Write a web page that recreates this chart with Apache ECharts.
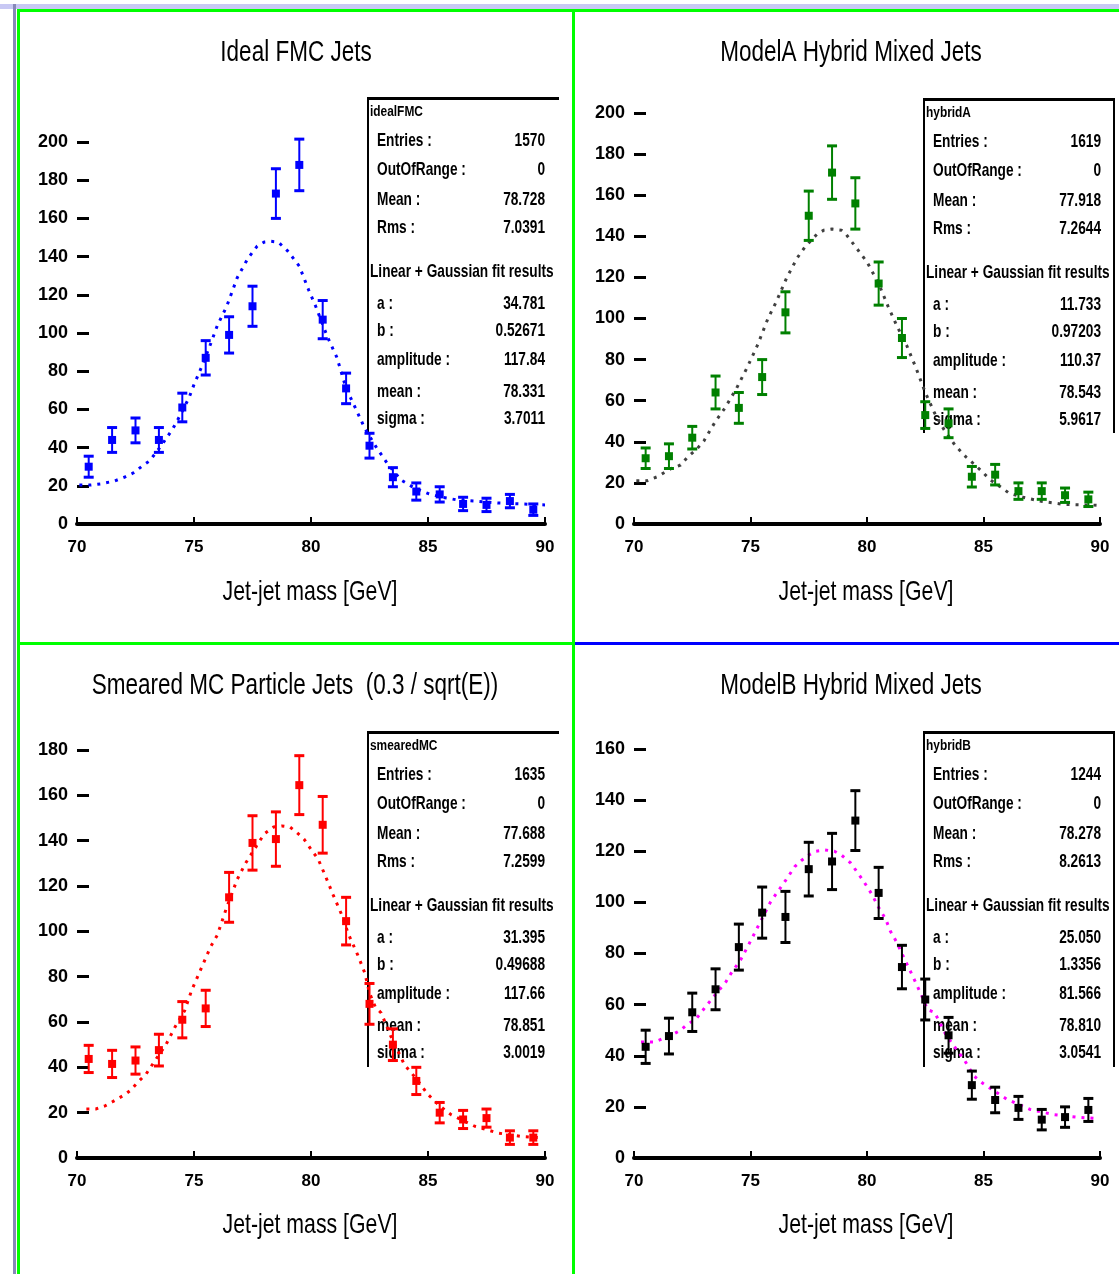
<!DOCTYPE html>
<html>
<head>
<meta charset="utf-8">
<script src="https://cdn.jsdelivr.net/npm/echarts@6/dist/echarts.min.js"></script>
<style>
html,body{margin:0;padding:0;background:#fff;}
#chart{width:1119px;height:1274px;}
</style>
</head>
<body>
<div id="chart"></div>
<script>
// ---- data ----
const bins = [70.5, 71.5, 72.5, 73.5, 74.5, 75.5, 76.5, 77.5, 78.5, 79.5, 80.5, 81.5, 82.5, 83.5, 84.5, 85.5, 86.5, 87.5, 88.5, 89.5];
const xTicks = [70, 75, 80, 85, 90];

const idealValues = [30, 44, 49, 44, 61, 87, 99, 114, 173, 188, 107, 71, 41, 24.5, 17, 15.5, 10.5, 10, 12, 7.5];
const idealErrors = [5.5, 6.5, 6.5, 6.5, 7.5, 9, 9.5, 10.5, 13, 13.5, 10, 8, 6.5, 5, 4.5, 4, 3.5, 3.5, 3.5, 3];
const idealFitX = [70.1, 70.6, 71.0, 71.6, 72.05, 72.4, 72.86, 73.1, 73.6, 74.1, 74.5, 74.8, 75.0, 75.35, 75.7, 76.0, 76.4, 76.85, 77.3, 77.7, 78.0, 78.3, 78.6, 79.0, 79.5, 79.9, 80.2, 80.7, 81.1, 81.5, 81.85, 82.3, 82.8, 83.3, 83.85, 84.4, 85.0, 85.6, 86.3, 87.0, 88.0, 89.0, 90.0];
const idealFitY = [20.4, 20.4, 21, 22.5, 24.6, 26.7, 31, 33, 41, 50, 59, 66.5, 73, 83, 94, 104, 114, 129, 139, 145.5, 147.6, 148, 147.6, 143, 135, 122.5, 114, 98, 87.4, 71, 62, 50, 40, 31, 23, 19, 16, 14, 12.5, 12, 11, 10.5, 10];

const hybridAValues = [32, 33, 42, 64, 56.5, 71.5, 103, 150, 171, 156, 117, 90.5, 53, 49, 23, 24, 16, 16, 14, 12];
const hybridAErrors = [5, 6, 5.5, 8, 7.5, 8.5, 10, 12, 13, 12.5, 10.5, 9.5, 6.5, 7, 5, 5, 4, 4, 3.5, 3.5];
const hybridAFitX = [70.1, 70.55, 71.0, 71.6, 72.0, 72.3, 72.7, 73.0, 73.2, 73.5, 73.9, 74.4, 74.85, 75.3, 75.75, 76.1, 76.55, 77.0, 77.35, 77.85, 78.15, 78.5, 78.9, 79.1, 79.5, 80.0, 80.5, 80.9, 81.3, 81.7, 82.1, 82.5, 82.9, 83.3, 83.8, 84.25, 84.8, 85.3, 85.8, 86.1, 86.7, 87.5, 88.5, 89.7, 90];
const hybridAFitY = [21, 21, 23, 27, 28.7, 32.6, 36.5, 40.4, 44.3, 50, 56.4, 66, 76, 87, 100, 108, 119.7, 129.4, 135, 141, 143, 143.5, 143, 141, 135, 127.5, 117, 106, 96, 87, 76, 64, 54, 46, 38, 32.6, 27, 21.4, 17.5, 15, 13, 11, 9.5, 9.2, 9];

const smearedValues = [43.7, 41.5, 43, 47.6, 61, 66, 115, 139, 140.7, 164.5, 147, 104.5, 68, 50, 34, 20, 17, 17.6, 9, 9];
const smearedErrors = [6, 6, 6, 7, 8, 8, 11, 12, 12, 13, 12.5, 10.5, 9, 7, 6, 4.5, 4, 4, 3, 3];
const smearedFitX = [70.4, 70.8, 71.2, 71.5, 71.8, 72.05, 72.3, 72.6, 72.95, 73.4, 73.8, 74.2, 74.6, 74.9, 75.35, 75.7, 76.0, 76.4, 76.85, 77.2, 77.6, 78.0, 78.4, 78.75, 79.1, 79.35, 79.7, 80.05, 80.3, 80.6, 80.95, 81.3, 81.6, 82.0, 82.3, 82.5, 82.75, 83.0, 83.4, 84.0, 84.5, 85.0, 85.5, 86.0, 87.0, 88.0, 89.0, 89.8];
const smearedFitY = [21.6, 21.6, 23, 24.7, 26.5, 28, 30, 33.5, 37, 44, 50, 58, 65, 74, 84.7, 93, 98.4, 110.7, 123, 130, 136.5, 143, 146, 146.5, 146, 144, 140.7, 135.4, 132, 124.8, 116, 107.6, 98.8, 89.5, 81.6, 72.8, 66.6, 64, 54, 41, 35, 28, 23, 19, 14, 11, 9.5, 9];

const hybridBValues = [43.5, 47.7, 57, 66, 82.5, 96, 94.3, 113, 116, 132, 103.7, 74.7, 62, 48, 28.5, 22.7, 19.6, 15, 16, 18.8];
const hybridBErrors = [6.5, 7, 7.5, 8, 9, 10, 10, 10.5, 11, 11.7, 10, 8.5, 8, 7, 5.5, 5, 4.5, 4, 4, 4.5];
const hybridBFitX = [70.3, 70.9, 71.3, 71.7, 72.0, 72.2, 72.7, 73.1, 73.5, 73.95, 74.15, 74.6, 75.05, 75.4, 75.85, 76.1, 76.5, 76.9, 77.2, 77.5, 77.8, 78.2, 78.6, 78.9, 79.3, 79.8, 80.2, 80.5, 80.8, 81.0, 81.3, 81.6, 82.0, 82.3, 82.6, 82.9, 83.4, 83.8, 84.2, 84.6, 85.0, 85.5, 86.0, 86.5, 87.0, 88.0, 89.0, 89.8];
const hybridBFitY = [45.4, 45.4, 47, 48.5, 50, 51.6, 54.8, 59.5, 64, 69, 72, 77.9, 85.7, 92, 100, 103.3, 108.5, 114, 116.5, 118.5, 120, 120.5, 120, 118.5, 115.4, 109, 103.3, 98, 93.5, 88.8, 84, 78, 70.4, 64.5, 58, 57, 48, 43, 38, 32, 29, 26, 23, 21, 19, 17, 16, 15.5];

const titles = ['Ideal FMC Jets', 'ModelA Hybrid Mixed Jets', 'Smeared MC Particle Jets  (0.3 / sqrt(E))', 'ModelB Hybrid Mixed Jets'];
const xAxisName = 'Jet-jet mass [GeV]';
const yMax = [200, 200, 180, 160];

const statNames = ['idealFMC', 'hybridA', 'smearedMC', 'hybridB'];
const statLabels = ['Entries :', 'OutOfRange :', 'Mean :', 'Rms :'];
const fitHeader = 'Linear + Gaussian fit results';
const fitLabels = ['a :', 'b :', 'amplitude :', 'mean :', 'sigma :'];
const statValues = [
  ['1570', '0', '78.728', '7.0391'],
  ['1619', '0', '77.918', '7.2644'],
  ['1635', '0', '77.688', '7.2599'],
  ['1244', '0', '78.278', '8.2613']
];
const fitValues = [
  ['34.781', '0.52671', '117.84', '78.331', '3.7011'],
  ['11.733', '0.97203', '110.37', '78.543', '5.9617'],
  ['31.395', '0.49688', '117.66', '78.851', '3.0019'],
  ['25.050', '1.3356', '81.566', '78.810', '3.0541']
];

// ---- layout / style ----
const FONT = '"Liberation Sans", Arial, sans-serif';
const panels = [
  {left: 77,  top: 142, width: 468, height: 382, color: '#0000ff', fit: '#0000ff', vals: idealValues, errs: idealErrors, fx: idealFitX, fy: idealFitY},
  {left: 634, top: 113, width: 466, height: 411, color: '#008000', fit: '#404040', vals: hybridAValues, errs: hybridAErrors, fx: hybridAFitX, fy: hybridAFitY},
  {left: 77,  top: 750, width: 468, height: 408, color: '#ff0000', fit: '#ff0000', vals: smearedValues, errs: smearedErrors, fx: smearedFitX, fy: smearedFitY},
  {left: 634, top: 749, width: 466, height: 409, color: '#000000', fit: '#ff00ff', vals: hybridBValues, errs: hybridBErrors, fx: hybridBFitX, fy: hybridBFitY}
];
const titleCenters = [[296, 53], [851, 53], [295, 686], [851, 686]];
const nameCenters = [[310, 592], [866, 592], [310, 1225], [866, 1225]];
const boxes = [
  {x: 367, y: 97, w: 192, bottom: 433, right: false},
  {x: 923, y: 98, w: 192, bottom: 433, right: true},
  {x: 367, y: 731, w: 192, bottom: 1067, right: false},
  {x: 923, y: 731, w: 192, bottom: 1067, right: true}
];

function errRenderer(color) {
  return function (params, api) {
    const x = api.value(0), y = api.value(1), e = api.value(2);
    const c = api.coord([x, y]);
    const t = api.coord([x, y + e]);
    const b = api.coord([x, y - e]);
    const cap = 5;
    return {
      type: 'group',
      children: [
        {type: 'line', shape: {x1: c[0], y1: t[1], x2: c[0], y2: b[1]}, style: {stroke: color, lineWidth: 2}},
        {type: 'line', shape: {x1: c[0] - cap, y1: t[1], x2: c[0] + cap, y2: t[1]}, style: {stroke: color, lineWidth: 3}},
        {type: 'line', shape: {x1: c[0] - cap, y1: b[1], x2: c[0] + cap, y2: b[1]}, style: {stroke: color, lineWidth: 3}},
        {type: 'rect', shape: {x: c[0] - 4, y: c[1] - 4, width: 8, height: 8}, style: {fill: color}}
      ]
    };
  };
}

const grid = [], xAxis = [], yAxis = [], series = [], graphic = [];
const addText = (s, x, y, align, font, sx) => graphic.push({
  type: 'text', x: x, y: y, scaleX: sx, silent: true,
  style: {text: s, fill: '#000', font: font, textAlign: align, textVerticalAlign: 'middle'}
});

panels.forEach((p, i) => {
  grid.push({left: p.left, top: p.top, width: p.width, height: p.height});
  xAxis.push({
    type: 'value', gridIndex: i, min: xTicks[0], max: xTicks[xTicks.length - 1], interval: 5,
    axisLine: {show: true, onZero: false, lineStyle: {color: '#000', width: 4}},
    axisTick: {show: true, inside: true, length: 7, lineStyle: {color: '#000', width: 2}},
    axisLabel: {fontFamily: FONT, fontSize: 17, fontWeight: 'bold', color: '#000', margin: 15},
    splitLine: {show: false}
  });
  yAxis.push({
    type: 'value', gridIndex: i, min: 0, max: yMax[i], interval: 20,
    axisLine: {show: false},
    axisTick: {show: true, inside: true, length: 12, lineStyle: {color: '#000', width: 3}},
    axisLabel: {fontFamily: FONT, fontSize: 18, fontWeight: 'bold', color: '#000', margin: 9},
    splitLine: {show: false}
  });
  series.push({
    type: 'line', xAxisIndex: i, yAxisIndex: i, silent: true, showSymbol: false, symbol: 'none',
    data: p.fx.map((x, k) => [x, p.fy[k]]),
    lineStyle: {color: p.fit, width: 3, type: [3, 6]}, z: 2
  });
  series.push({
    type: 'custom', xAxisIndex: i, yAxisIndex: i, silent: true,
    renderItem: errRenderer(p.color),
    data: bins.map((x, k) => [x, p.vals[k], p.errs[k]]), z: 3
  });

  // titles and axis names (narrow, tall lettering as in the reference)
  addText(titles[i], titleCenters[i][0], titleCenters[i][1], 'center', '30px ' + FONT, 0.75);
  addText(xAxisName, nameCenters[i][0], nameCenters[i][1], 'center', '28px ' + FONT, 0.76);

  // stat box
  const bx = boxes[i];
  const lx = bx.x + 10, rx = bx.x + 178, oy = bx.y - 97;
  graphic.push({type: 'rect', shape: {x: bx.x, y: bx.y, width: bx.w, height: 3}, style: {fill: '#000'}});
  graphic.push({type: 'rect', shape: {x: bx.x, y: bx.y, width: 2, height: bx.bottom - bx.y}, style: {fill: '#000'}});
  if (bx.right) graphic.push({type: 'rect', shape: {x: bx.x + bx.w - 2, y: bx.y, width: 2, height: bx.bottom - bx.y}, style: {fill: '#000'}});
  const F = 'bold 19px ' + FONT;
  addText(statNames[i], bx.x + 3, 112 + oy, 'left', 'bold 14px ' + FONT, 0.85);
  const rowsA = [141, 170, 200, 228];
  statLabels.forEach((s, k) => {
    addText(s, lx, rowsA[k] + oy, 'left', F, 0.72);
    addText(statValues[i][k], rx, rowsA[k] + oy, 'right', F, 0.72);
  });
  addText(fitHeader, bx.x + 3, 272 + oy, 'left', F, 0.72);
  const rowsB = [304, 331, 360, 392, 419];
  fitLabels.forEach((s, k) => {
    addText(s, lx, rowsB[k] + oy, 'left', F, 0.72);
    addText(fitValues[i][k], rx, rowsB[k] + oy, 'right', F, 0.72);
  });
});

// frame lines
graphic.push({type: 'rect', shape: {x: 0, y: 4, width: 1119, height: 5}, style: {fill: '#c8c8f4'}});
graphic.push({type: 'rect', shape: {x: 13, y: 4, width: 3, height: 1270}, style: {fill: '#8888b8'}});
graphic.push({type: 'rect', shape: {x: 17, y: 9, width: 1102, height: 3}, style: {fill: '#00ff00'}});
graphic.push({type: 'rect', shape: {x: 17, y: 9, width: 3, height: 1265}, style: {fill: '#00ff00'}});
graphic.push({type: 'rect', shape: {x: 572, y: 9, width: 3, height: 1265}, style: {fill: '#00ff00'}});
graphic.push({type: 'rect', shape: {x: 17, y: 642, width: 557, height: 3}, style: {fill: '#00ff00'}});
graphic.push({type: 'rect', shape: {x: 575, y: 642, width: 544, height: 3}, style: {fill: '#0000ff'}});

const chart = echarts.init(document.getElementById('chart'), null, {renderer: 'canvas'});
chart.setOption({
  backgroundColor: '#ffffff',
  animation: false,
  grid: grid,
  xAxis: xAxis,
  yAxis: yAxis,
  series: series,
  graphic: graphic
});
</script>
</body>
</html>
